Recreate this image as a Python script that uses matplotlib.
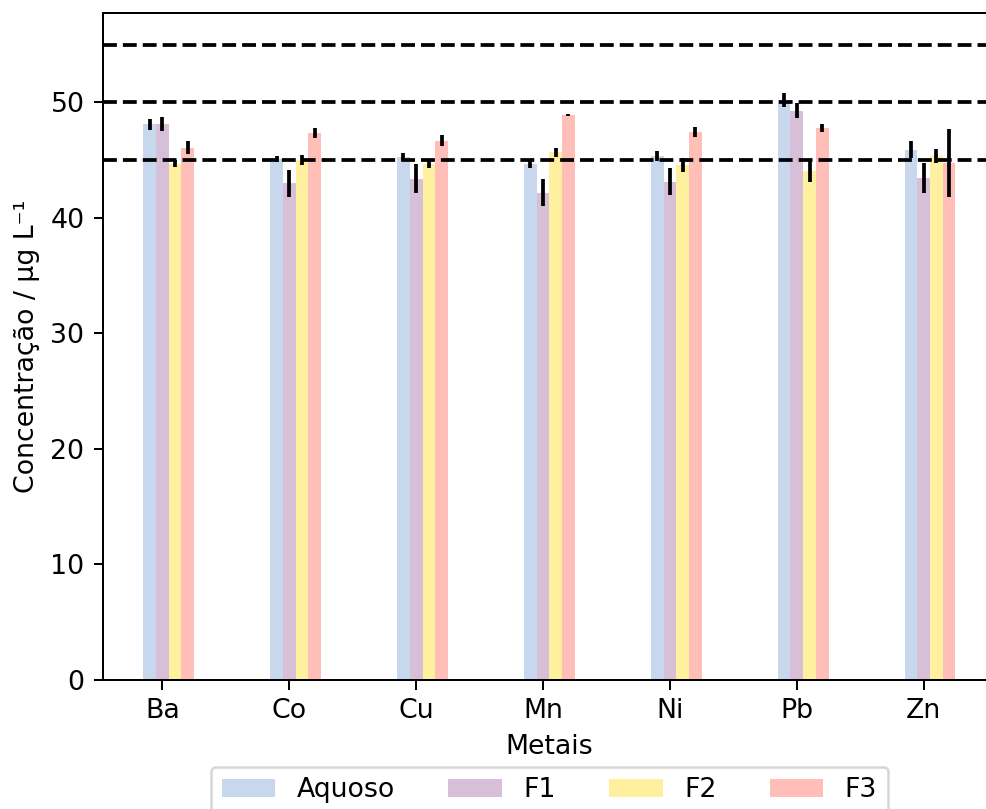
import numpy as np
import matplotlib.pyplot as plt

metais = ['Ba', 'Co', 'Cu', 'Mn', 'Ni', 'Pb', 'Zn']
series = ['Aquoso', 'F1', 'F2', 'F3']

aquoso = [48.1, 45.1, 45.3, 44.7, 45.4, 50.25, 45.9]
aquoso_err = [0.45, 0.25, 0.3, 0.4, 0.43, 0.6, 0.75]
f1 = [48.1, 43.0, 43.4, 42.2, 43.15, 49.3, 43.45]
f1_err = [0.6, 1.15, 1.25, 1.2, 1.2, 0.65, 1.3]
f2 = [44.7, 45.0, 44.7, 45.7, 44.6, 44.1, 45.4]
f2_err = [0.3, 0.45, 0.4, 0.4, 0.6, 0.95, 0.6]
f3 = [46.1, 47.35, 46.7, 48.9, 47.45, 47.8, 44.75]
f3_err = [0.6, 0.4, 0.5, 0.1, 0.45, 0.35, 2.95]

limites = [45, 50, 55]
cores = ['#c6d7ee', '#d7bfd8', '#fff0a0', '#ffbfb8']

plt.rcParams['font.size'] = 10.7
plt.rcParams['xtick.major.size'] = 3.8
plt.rcParams['ytick.major.size'] = 3.8

fig = plt.figure(figsize=(986 / 180, 809 / 180), dpi=180)
ax = fig.add_axes([0.1042, 0.1595, 0.906, 0.8245])

x = np.arange(len(metais))
w = 0.1
valores = [aquoso, f1, f2, f3]
erros = [aquoso_err, f1_err, f2_err, f3_err]
for i, (nome, v, e, c) in enumerate(zip(series, valores, erros, cores)):
    ax.bar(x + (i - 1) * w, v, w, yerr=e, color=c, label=nome,
           error_kw=dict(ecolor='black', elinewidth=1.5, capsize=0, zorder=3))

for y in limites:
    ax.axhline(y, color='black', linestyle='--', linewidth=1.5, zorder=4)

ax.set_xlim(-0.47, 6.57)
ax.set_ylim(0, 57.75)
ax.set_xticks(x)
ax.set_xticklabels(metais)
ax.set_xlabel('Metais')
ax.set_ylabel('Concentração / µg L⁻¹')
ax.legend(loc='upper center', bbox_to_anchor=(0.5, -0.13), ncol=4,
          borderaxespad=0)

fig.savefig('out.png', dpi=180)
